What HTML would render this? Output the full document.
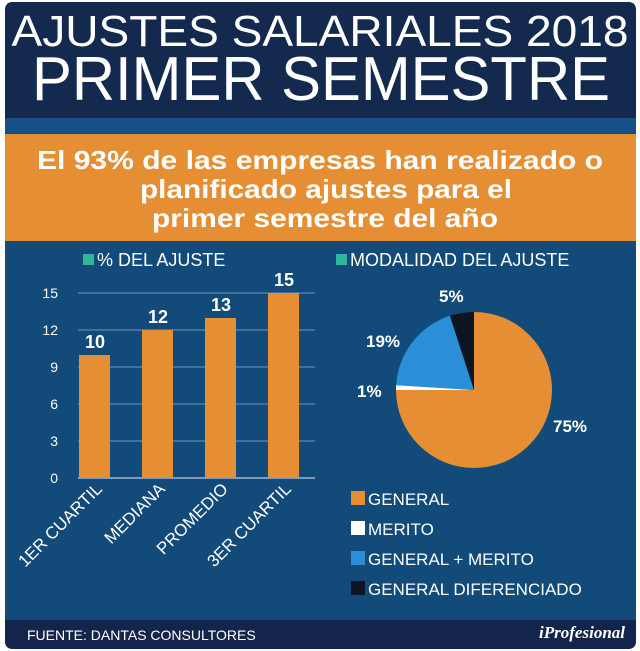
<!DOCTYPE html>
<html><head><meta charset="utf-8"><style>
html,body{margin:0;padding:0;background:#fff;}
svg{display:block;font-family:"Liberation Sans",sans-serif;}
</style></head><body>
<svg width="640" height="651" viewBox="0 0 640 651">
<rect x="0" y="0" width="640" height="651" fill="#fff"/>
<rect x="5" y="2" width="631" height="647" rx="8" fill="#124a7a"/>
<path d="M13,2 H628 Q636,2 636,10 V118 H5 V10 Q5,2 13,2Z" fill="#13294e"/>
<rect x="5" y="118" width="631" height="15" fill="#155088"/>
<rect x="5" y="134" width="631" height="107" fill="#e58e33"/>
<path d="M5,620 H636 V641 Q636,649 628,649 H13 Q5,649 5,641Z" fill="#13254a"/>
<g fill="#fff" text-anchor="middle">
<text x="320" y="46" font-size="44" textLength="617" lengthAdjust="spacingAndGlyphs">AJUSTES SALARIALES 2018</text>
<text x="321" y="100" font-size="62" textLength="578" lengthAdjust="spacingAndGlyphs">PRIMER SEMESTRE</text>
<g font-weight="bold" font-size="26">
<text x="320" y="169" textLength="566" lengthAdjust="spacingAndGlyphs">El 93% de las empresas han realizado o</text>
<text x="326" y="198" textLength="372" lengthAdjust="spacingAndGlyphs">planificado ajustes para el</text>
<text x="325" y="227" textLength="346" lengthAdjust="spacingAndGlyphs">primer semestre del año</text>
</g>
</g>
<!-- bar chart -->
<rect x="83" y="254" width="11" height="11" fill="#2fb59a"/>
<text x="97" y="266" font-size="18" fill="#fff">% DEL AJUSTE</text>
<g stroke="#5f87b0" stroke-width="1.2">
<line x1="78" x2="315" y1="293" y2="293"/><line x1="78" x2="315" y1="330" y2="330"/>
<line x1="78" x2="315" y1="367" y2="367"/><line x1="78" x2="315" y1="404" y2="404"/>
<line x1="78" x2="315" y1="441" y2="441"/>
</g>
<line x1="78" x2="315" y1="478" y2="478" stroke="#b8cde0" stroke-width="1.2"/>
<g fill="#fff" font-size="14" text-anchor="end">
<text x="58" y="298">15</text><text x="58" y="335">12</text><text x="58" y="372">9</text>
<text x="58" y="409">6</text><text x="58" y="446">3</text><text x="58" y="483">0</text>
</g>
<g fill="#e58e33">
<rect x="79" y="355" width="31" height="123"/>
<rect x="142" y="330" width="31" height="148"/>
<rect x="205" y="318" width="31" height="160"/>
<rect x="268" y="293" width="31" height="185"/>
</g>
<g fill="#fff" font-size="18" font-weight="bold" text-anchor="middle">
<text x="95" y="348">10</text><text x="158" y="323">12</text><text x="221" y="311">13</text><text x="284" y="286">15</text>
</g>
<g fill="#fff" font-size="17" text-anchor="end">
<text transform="translate(103,490) rotate(-45)">1ER CUARTIL</text>
<text transform="translate(166,490) rotate(-45)">MEDIANA</text>
<text transform="translate(229,490) rotate(-45)">PROMEDIO</text>
<text transform="translate(292,490) rotate(-45)">3ER CUARTIL</text>
</g>
<!-- pie -->
<rect x="336" y="254" width="11" height="11" fill="#2fb59a"/>
<text x="350" y="266" font-size="18" fill="#fff">MODALIDAD DEL AJUSTE</text>
<g transform="translate(474,390)">
<path d="M0,0 L0,-78 A78,78 0 1 1 -78,0 Z" fill="#e58e33"/>
<path d="M0,0 L-78,0 A78,78 0 0 1 -77.85,-4.9 Z" fill="#fff"/>
<path d="M0,0 L-77.85,-4.9 A78,78 0 0 1 -24.1,-74.2 Z" fill="#2a8fd6"/>
<path d="M0,0 L-24.1,-74.2 A78,78 0 0 1 0,-78 Z" fill="#0e1522"/>
</g>
<g fill="#fff" font-size="17" font-weight="bold">
<text x="439" y="302">5%</text><text x="366" y="347">19%</text>
<text x="357" y="397">1%</text><text x="553" y="432">75%</text>
</g>
<g font-size="17" fill="#fff">
<rect x="351" y="491" width="14" height="14" fill="#e58e33"/><text x="368" y="505">GENERAL</text>
<rect x="351" y="521" width="14" height="14" fill="#fff"/><text x="368" y="535">MERITO</text>
<rect x="351" y="551" width="14" height="14" fill="#2a8fd6"/><text x="368" y="565">GENERAL + MERITO</text>
<rect x="351" y="581" width="14" height="14" fill="#0e1522"/><text x="368" y="595">GENERAL DIFERENCIADO</text>
</g>
<text x="27" y="640" font-size="14" fill="#fff">FUENTE: DANTAS CONSULTORES</text>
<text x="625" y="638" font-size="17" fill="#fff" font-family="Liberation Serif,serif" font-style="italic" font-weight="bold" text-anchor="end">iProfesional</text>
</svg>
</body></html>
